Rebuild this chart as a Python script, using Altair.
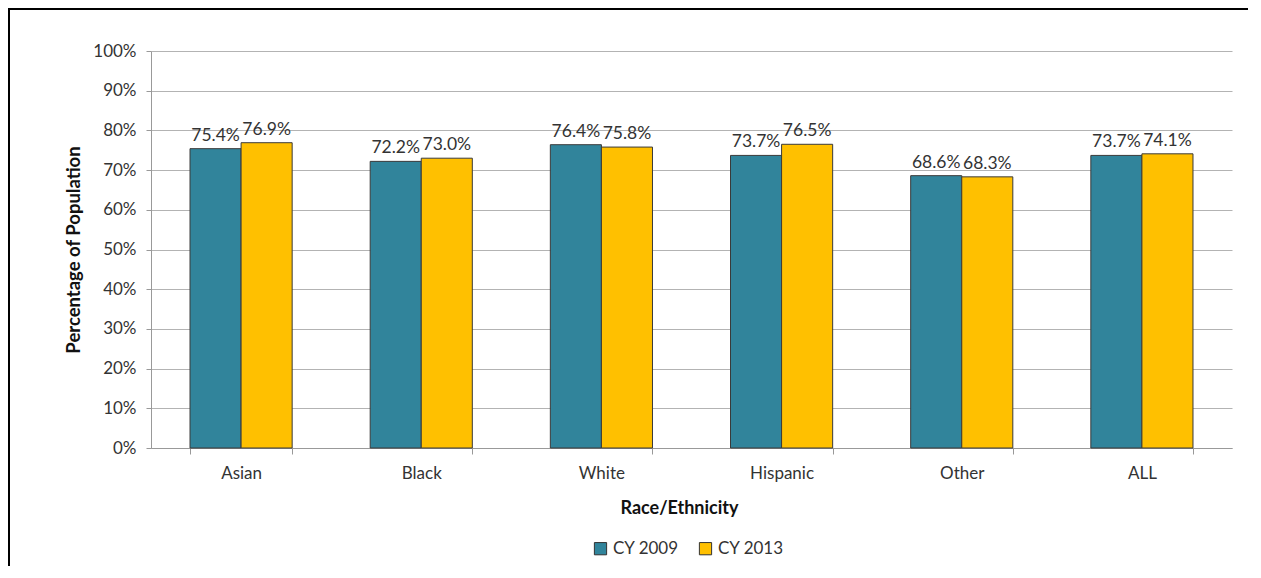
import altair as alt
import pandas as pd

categories = ["Asian", "Black", "White", "Hispanic", "Other", "ALL"]
cy2009 = [75.4, 72.2, 76.4, 73.7, 68.6, 73.7]
cy2013 = [76.9, 73.0, 75.8, 76.5, 68.3, 74.1]
series = ["CY 2009", "CY 2013"]
colors = ["#31849B", "#FFC000"]
y_ticks = [0, 10, 20, 30, 40, 50, 60, 70, 80, 90, 100]

rows = []
for i, c in enumerate(categories):
    rows.append({"cat": c, "series": series[0], "val": cy2009[i] / 100})
    rows.append({"cat": c, "series": series[1], "val": cy2013[i] / 100})
df = pd.DataFrame(rows)

FONT = "Lato"
W, H = 1081, 397
PL, PT = 143, 43
PR = 1240 - PL - W
PB = 118

xenc = alt.X(
    "cat:N",
    sort=categories,
    scale=alt.Scale(paddingInner=0.433, paddingOuter=0.2165),
    axis=alt.Axis(
        title="Race/Ethnicity",
        labelAngle=0,
        tickBand="extent",
        tickSize=6,
        tickColor="#999999",
        domainColor="#999999",
        labelFont=FONT,
        labelFontSize=17,
        labelColor="#333333",
        labelPadding=11,
        titleFont=FONT,
        titleFontSize=18,
        titleFontWeight="bold",
        titleColor="#111111",
        titlePadding=18,
        titleX=528,
        grid=False,
    ),
)
offset = alt.XOffset("series:N", sort=series, scale=alt.Scale(paddingInner=0, paddingOuter=0))
yenc = alt.Y(
    "val:Q",
    scale=alt.Scale(domain=[0, 1], nice=False),
    axis=alt.Axis(
        title="Percentage of Population",
        format=".0%",
        values=[v / 100 for v in y_ticks],
        labelOverlap=False,
        tickSize=5,
        tickColor="#999999",
        domainColor="#999999",
        gridColor="#b3b3b3",
        gridWidth=1.2,
        labelFont=FONT,
        labelFontSize=17,
        labelColor="#333333",
        labelPadding=10,
        titleFont=FONT,
        titleFontSize=18.5,
        titleFontWeight="bold",
        titleColor="#111111",
        titlePadding=9,
    ),
)

bars = alt.Chart(df).mark_bar(stroke="#3a3a3a", strokeWidth=1).encode(
    x=xenc,
    xOffset=offset,
    y=yenc,
    color=alt.Color(
        "series:N",
        sort=series,
        scale=alt.Scale(domain=series, range=colors),
        legend=alt.Legend(
            title=None,
            orient="none",
            legendX=441,
            legendY=489,
            direction="horizontal",
            symbolType="square",
            symbolSize=150,
            symbolStrokeColor="#333333",
            symbolStrokeWidth=1,
            labelFont=FONT,
            labelFontSize=17,
            labelColor="#333333",
            columnPadding=18,
            symbolOffset=0,
        ),
    ),
)

labels = alt.Chart(df).mark_text(
    baseline="bottom", dy=-4, font=FONT, fontSize=17.5, color="#333333"
).encode(
    x=xenc,
    xOffset=offset,
    y=yenc,
    text=alt.Text("val:Q", format=".1%"),
)

frame = pd.DataFrame({"a": [0]})
left_edge = alt.Chart(frame).mark_rule(color="#000000", strokeWidth=2).encode(
    x=alt.value(-142),
    y=alt.value(-43),
    y2=alt.value(H + PB),
)
top_edge = alt.Chart(frame).mark_rule(color="#000000", strokeWidth=2).encode(
    x=alt.value(-143),
    x2=alt.value(W + PR + 40),
    y=alt.value(-42),
)

chart = (
    alt.layer(left_edge, top_edge, bars, labels)
    .properties(
        width=W,
        height=H,
        autosize=alt.AutoSizeParams(type="none"),
        padding={"left": PL, "top": PT, "right": PR, "bottom": PB},
    )
    .configure_view(stroke=None)
)

chart.save("out.html", embed_options={"renderer": "svg", "actions": False})
